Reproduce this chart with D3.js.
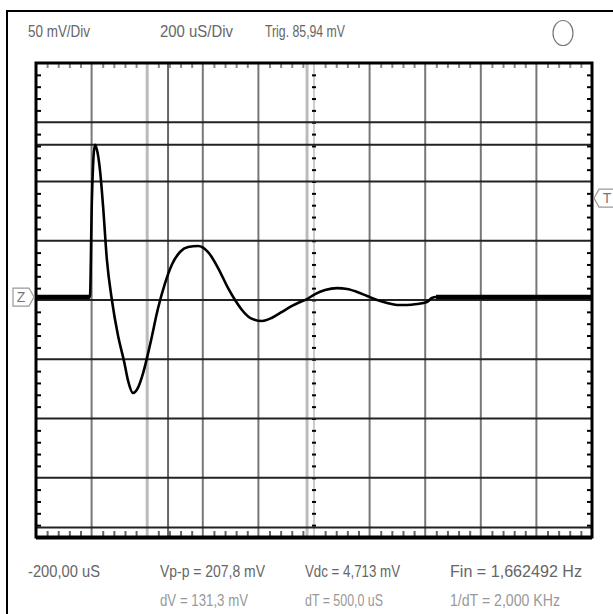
<!DOCTYPE html>
<html>
<head>
<meta charset="utf-8">
<script src="https://cdn.jsdelivr.net/npm/d3@7"></script>
<style>
body{margin:0;background:#fff;}
text{font-family:"Liberation Sans Narrow","Liberation Sans",Arial,sans-serif;}
</style>
</head>
<body>
<div id="canva"></div>
<script>
// trace samples: time in uS, level in mV
var times = [-200,-13,-6,1,12,19,30,41,55,73,95,117,131,149,167,185,210,239,264,289,318,347,383,419,455,491,516,541,570,613,649,685,721,750,775,804,840,883,919,955,991,1027,1063,1099,1134,1170,1206,1224,1239,1800];
var volts = [2.5,2.5,2.5,84,131,127,110,80,34,0,-30,-52,-68,-78.5,-74,-62,-38,-7,14,30,40.5,44.7,45.6,40.5,27,10,0,-8.4,-15,-17.7,-15,-10,-5,-1.7,0.8,5,8.4,10,9.3,6.8,3.4,0,-2.5,-4.2,-4.2,-3.4,-1.7,1.7,2.5,2.5];

var timeCursors = [275,775];
var voltCursors = [131,-192];

var headerLabels = ["50 mV/Div","200 uS/Div","Trig. 85,94 mV"];
var footerRow1 = ["-200,00 uS","Vp-p = 207,8 mV","Vdc = 4,713 mV","Fin = 1,662492 Hz"];
var footerRow2 = ["dV = 131,3 mV","dT = 500,0 uS","1/dT = 2,000 KHz"];
var trigLevel = 85.94;

var W = 613, H = 614;
var margin = {top:63,left:36,right:21,bottom:77};

var svg = d3.select("#canva").append("svg")
	.attr("width",W).attr("height",H);

// outer frame
svg.append("rect").attr("x",7).attr("y",11).attr("width",W+20).attr("height",H+20)
	.attr("fill","none").attr("stroke","#000").attr("stroke-width",2);

var x = d3.scaleLinear().domain([-200,1800]).range([margin.left, W-margin.right]);
var y = d3.scaleLinear().domain([-200,200]).range([H-margin.bottom, margin.top]);

var g = svg.append("g");

// vertical grid
var vGrid = d3.range(0,1800,200).filter(function(d){return d!=800;});
g.selectAll(".vgrid").data(vGrid).enter().append("line")
	.attr("x1",function(d){return x(d);}).attr("x2",function(d){return x(d);})
	.attr("y1",y(200)).attr("y2",y(-200))
	.attr("stroke",function(d){return d==200 ? "#bbb" : "#777";})
	.attr("stroke-width",function(d){return d==200 ? 3 : 2;});

// centre axis (vertical)
g.append("line").attr("x1",x(800)).attr("x2",x(800)).attr("y1",y(200)).attr("y2",y(-200))
	.attr("stroke","#ccc").attr("stroke-width",2);
g.append("g").attr("transform","translate("+(x(800)+2)+",0)")
	.call(d3.axisLeft(y).tickValues(d3.range(-190,200,10)).tickSize(4).tickFormat(""))
	.call(function(a){a.select(".domain").remove(); a.selectAll("line").attr("stroke","#000").attr("stroke-width",2);});

// time cursors
g.selectAll(".tcur").data(timeCursors).enter().append("line")
	.attr("x1",function(d){return x(d);}).attr("x2",function(d){return x(d);})
	.attr("y1",y(200)).attr("y2",y(-200))
	.attr("stroke",function(d,i){return i==0 ? "#666" : "#bbb";})
	.attr("stroke-width",function(d,i){return i==0 ? 2 : 3;});

// horizontal grid
var hGrid = d3.range(-150,200,50);
g.selectAll(".hgrid").data(hGrid).enter().append("line")
	.attr("x1",x(-200)).attr("x2",x(1800))
	.attr("y1",function(d){return y(d);}).attr("y2",function(d){return y(d);})
	.attr("stroke","#222").attr("stroke-width",2);

g.selectAll(".vcur").data(voltCursors).enter().append("line")
	.attr("x1",x(-200)).attr("x2",x(1800))
	.attr("y1",function(d){return y(d);}).attr("y2",function(d){return y(d);})
	.attr("stroke","#222").attr("stroke-width",2);

// minor ticks on the frame
function clean(a,col){a.select(".domain").remove(); a.selectAll("line").attr("stroke",col).attr("stroke-width",2);}
var tTicks = d3.range(-160,1800,40).filter(function(d){return d%200!=0;});
var vTicks = d3.range(-190,200,10).filter(function(d){return d%50!=0;});
g.append("g").attr("transform","translate(0,"+y(200)+")")
	.call(d3.axisBottom(x).tickValues(tTicks).tickSize(5).tickFormat("")).call(clean,"#888");
g.append("g").attr("transform","translate(0,"+y(-200)+")")
	.call(d3.axisTop(x).tickValues(tTicks).tickSize(6).tickFormat("")).call(clean,"#666");
g.append("g").attr("transform","translate("+x(-200)+",0)")
	.call(d3.axisRight(y).tickValues(vTicks).tickSize(5).tickFormat("")).call(clean,"#000");
g.append("g").attr("transform","translate("+x(1800)+",0)")
	.call(d3.axisLeft(y).tickValues(vTicks).tickSize(5).tickFormat("")).call(clean,"#000");

// trace
var line = d3.line().x(function(d){return x(d[0]);}).y(function(d){return y(d[1]);})
	.curve(d3.curveMonotoneX);
var pts = times.map(function(t,i){return [t,volts[i]];});
g.append("path").datum(pts).attr("d",line)
	.attr("fill","none").attr("stroke","#000").attr("stroke-width",2.6);
// noisy flat parts look thicker
var flatA = pts.slice(0,3), flatB = pts.slice(pts.length-2);
[flatA,flatB].forEach(function(p){
	g.append("path").datum(p).attr("d",d3.line().x(function(d){return x(d[0]);}).y(function(d){return y(d[1]);}))
		.attr("fill","none").attr("stroke","#000").attr("stroke-width",4.5);
});

// plot frame
g.append("rect").attr("x",x(-200)).attr("y",y(200))
	.attr("width",x(1800)-x(-200)).attr("height",y(-200)-y(200))
	.attr("fill","none").attr("stroke","#000").attr("stroke-width",3);
g.append("line").attr("x1",x(-200)).attr("x2",x(1800)).attr("y1",y(-200)+1).attr("y2",y(-200)+1)
	.attr("stroke","#000").attr("stroke-width",3);

// Z marker (ground) and T marker (trigger level)
function marker(cx,cy,dir,label){
	var w=16,h=18,p=5;
	var pts2 = dir>0
		? [[cx-w-p,cy-h/2],[cx-p,cy-h/2],[cx,cy],[cx-p,cy+h/2],[cx-w-p,cy+h/2]]
		: [[cx+w+p,cy-h/2],[cx+p,cy-h/2],[cx,cy],[cx+p,cy+h/2],[cx+w+p,cy+h/2]];
	svg.append("polygon").attr("points",pts2.map(function(q){return q.join(",");}).join(" "))
		.attr("fill","#fff").attr("stroke","#999").attr("stroke-width",1.2);
	svg.append("text").attr("x",dir>0 ? cx-p-w/2 : cx+p+w/2).attr("y",cy+5)
		.attr("text-anchor","middle").attr("font-size",14).attr("fill","#777").text(label);
}
marker(x(-200)-2,y(2.5),1,"Z");
marker(x(1800)+2,y(trigLevel),-1,"T");

// texts
var hx = [28,160,265], hw = [62,73,80];
svg.selectAll(".head").data(headerLabels).enter().append("text")
	.attr("x",function(d,i){return hx[i];}).attr("y",37)
	.attr("font-size",17).attr("fill","#666")
	.attr("textLength",function(d,i){return hw[i];}).attr("lengthAdjust","spacingAndGlyphs")
	.text(function(d){return d;});
svg.append("ellipse").attr("cx",563).attr("cy",33).attr("rx",10).attr("ry",12.5)
	.attr("fill","none").attr("stroke","#777").attr("stroke-width",1.2);

var f1x = [28,160,305,450], f1w = [72,105,95,132];
svg.selectAll(".foot1").data(footerRow1).enter().append("text")
	.attr("x",function(d,i){return f1x[i];}).attr("y",577)
	.attr("font-size",17).attr("fill","#666")
	.attr("textLength",function(d,i){return f1w[i];}).attr("lengthAdjust","spacingAndGlyphs")
	.text(function(d){return d;});
var f2x = [160,305,450], f2w = [88,78,110];
svg.selectAll(".foot2").data(footerRow2).enter().append("text")
	.attr("x",function(d,i){return f2x[i];}).attr("y",606)
	.attr("font-size",17).attr("fill","#999")
	.attr("textLength",function(d,i){return f2w[i];}).attr("lengthAdjust","spacingAndGlyphs")
	.text(function(d){return d;});
</script>
</body>
</html>
